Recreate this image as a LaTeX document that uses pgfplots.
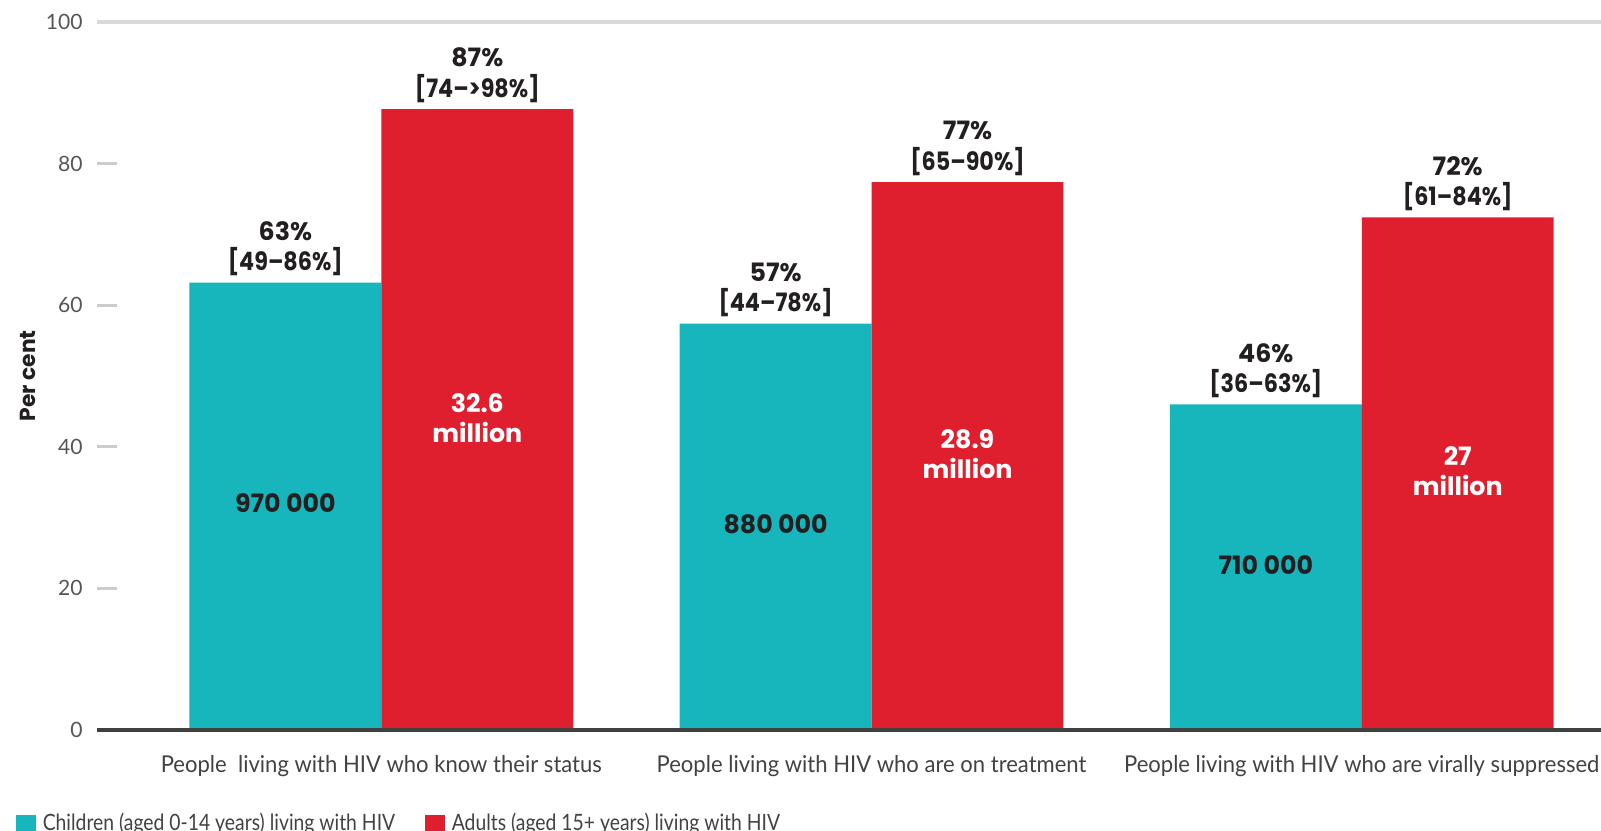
\documentclass[border=0pt]{standalone}
\usepackage{pgfplots}
\pgfplotsset{compat=1.18}
\usepackage{fontspec}
\setmainfont{Lato}
\newfontfamily\gill[FakeStretch=0.95]{Lato}
\newfontfamily\gilln[FakeStretch=0.86]{Lato}
\newfontfamily\fut{Poppins}
\newfontfamily\futn[FakeStretch=0.88]{Poppins}
\definecolor{teal1}{HTML}{16B6BC}
\definecolor{red1}{HTML}{DF1F2D}
\definecolor{txt}{HTML}{231F20}
\definecolor{ticktxt}{HTML}{555555}
\begin{document}
\begin{tikzpicture}
\useasboundingbox (0,0) rectangle (16.01,8.31);
\begin{axis}[
  at={(0.97cm,1.01cm)}, anchor=south west,
  width=15.04cm, height=7.08cm, scale only axis,
  xmin=-0.58, xmax=2.488, ymin=0, ymax=100,
  ybar, bar width=0.3915,
  axis lines*=left, axis line style={draw=none},
  ytick={0,20,40,60,80,100},
  tick align=inside, major tick length=0.2cm,
  ytick style={draw=gray!40, line width=0.9pt},
  xtick={0,1,2},
  xtick style={draw=none},
  xticklabels={People\ \ living with HIV who know their status, People living with HIV who are on treatment, People living with HIV who are virally suppressed},
  xticklabel style={font=\gill\fontsize{6.6}{8}\selectfont, text=txt!85, yshift=-0.13cm},
  /pgf/number format/assume math mode=true,
  yticklabel style={font=\fontsize{6.0}{8}\selectfont, text=ticktxt, xshift=-0.02cm},
  ylabel={Per cent},
  ylabel style={font=\fut\bfseries\fontsize{6.2}{8}\selectfont, text=txt, at={(axis description cs:-0.0459,0.5)}, anchor=center, rotate=0},
  legend image code/.code={\fill[#1] (0cm,-0.095cm) rectangle (0.2cm,0.095cm);},
  legend style={at={(axis description cs:-0.0545,-0.134)}, anchor=west, draw=none, fill=none,
    legend columns=2, font=\gilln\fontsize{6.4}{8}\selectfont, text=txt!85, inner sep=0pt,
    /tikz/every even column/.append style={column sep=0.2cm}},
  legend cell align=left,
  clip=false,
]
\addplot[fill=teal1, draw=none, bar shift=-0.19575] coordinates {(0,63.2) (1,57.4) (2,46.0)};
\addplot[fill=red1, draw=none, bar shift=0.19575] coordinates {(0,87.7) (1,77.4) (2,72.4)};
\legend{\makebox[3.55cm][l]{Children (aged 0-14 years) living with HIV}, Adults (aged 15+ years) living with HIV}
\draw[black!75, line width=1.4pt] (rel axis cs:0,0) -- (rel axis cs:1,0);
\draw[gray!30, line width=1pt] (axis cs:-0.58,100) -- (axis cs:2.488,100);
\tikzset{toplab/.style={anchor=south, align=center, font=\fut\bfseries\fontsize{7.2}{8.6}\selectfont, text=txt, inner sep=2pt, yshift=-0.3pt},
  inlab/.style={align=center, font=\fut\bfseries\fontsize{7.2}{8.6}\selectfont}}
\node[toplab] at (axis cs:-0.19575,63.2) {63\%\\{\futn\bfseries[49–86\%]}};
\node[toplab] at (axis cs:0.19575,87.7) {87\%\\{\futn\bfseries[74–>98\%]}};
\node[toplab] at (axis cs:0.80425,57.4) {57\%\\{\futn\bfseries[44–78\%]}};
\node[toplab] at (axis cs:1.19575,77.4) {77\%\\{\futn\bfseries[65–90\%]}};
\node[toplab] at (axis cs:1.80425,46.0) {46\%\\{\futn\bfseries[36–63\%]}};
\node[toplab] at (axis cs:2.19575,72.4) {72\%\\{\futn\bfseries[61–84\%]}};
\node[inlab, text=txt] at (axis cs:-0.19575,32) {970 000};
\node[inlab, text=txt] at (axis cs:0.80425,29.1) {880 000};
\node[inlab, text=txt] at (axis cs:1.80425,23.3) {710 000};
\node[inlab, text=white] at (axis cs:0.19575,44) {32.6\\million};
\node[inlab, text=white] at (axis cs:1.19575,39) {28.9\\million};
\node[inlab, text=white] at (axis cs:2.19575,36.6) {27\\million};
\end{axis}
\end{tikzpicture}
\end{document}
